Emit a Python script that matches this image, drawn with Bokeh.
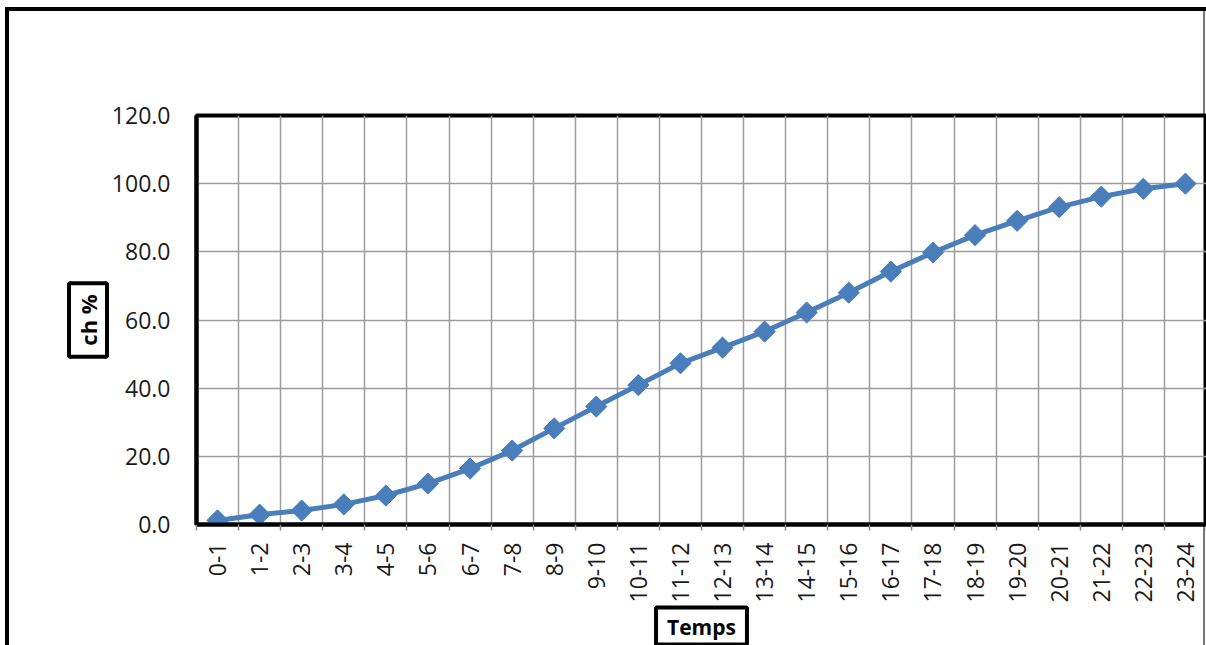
import numpy as np
from bokeh.plotting import figure
from bokeh.models import (Range1d, FixedTicker, NumeralTickFormatter, Title,
                          ColumnDataSource)
from bokeh.embed import file_html
from bokeh.resources import INLINE

periods = ["0-1", "1-2", "2-3", "3-4", "4-5", "5-6", "6-7", "7-8", "8-9", "9-10",
           "10-11", "11-12", "12-13", "13-14", "14-15", "15-16", "16-17", "17-18",
           "18-19", "19-20", "20-21", "21-22", "22-23", "23-24"]
ch_pct = [1.2, 2.9, 4.1, 5.9, 8.5, 12.0, 16.4, 21.7, 28.2, 34.6, 40.9, 47.3,
          51.9, 56.6, 62.2, 68.0, 74.2, 79.8, 84.9, 89.1, 93.1, 96.2, 98.5, 100.0]
y_ticks = [0, 20, 40, 60, 80, 100, 120]
x_title = "Temps"
y_title = "ch %"

FONT = "Open Sans"
BLUE = "#4a7ebb"
GRID = "#9c9c9c"

x_pos = np.arange(len(periods)) + 0.5
src = ColumnDataSource(dict(x=x_pos, y=ch_pct, period=periods))

p = figure(width=1206, height=645, output_backend="svg", toolbar_location=None,
           x_range=Range1d(0, len(periods)), y_range=Range1d(y_ticks[0], y_ticks[-1]),
           min_border_left=196, min_border_right=0, min_border_top=115,
           min_border_bottom=121, background_fill_color="white")

# outer chart-area border (left / top thick black, right thin grey)
p.border_fill_alpha = 0
p.styles = {
    "background-color": "white",
    "background-image": "linear-gradient(#000,#000), linear-gradient(#000,#000), "
                        "linear-gradient(#777,#777)",
    "background-size": "4px 100%, 100% 4px, 2px 100%",
    "background-position": "5px 7px, 5px 7px, 1203px 7px",
    "background-repeat": "no-repeat",
}

p.outline_line_color = "black"
p.outline_line_width = 4

# x axis: labels at category centres, tick marks / grid at boundaries
xt = FixedTicker(ticks=list(x_pos), minor_ticks=list(range(len(periods) + 1)))
p.xaxis.ticker = xt
p.xaxis.major_label_overrides = {float(x): lab for x, lab in zip(x_pos, periods)}
p.xaxis.major_label_orientation = np.pi / 2
p.xaxis.major_tick_line_color = None
p.xaxis.major_tick_out = 6
p.xaxis.major_tick_in = 0
p.xaxis.minor_tick_line_color = "#888888"
p.xaxis.minor_tick_line_width = 1.5
p.xaxis.minor_tick_out = 6
p.xaxis.minor_tick_in = 0
p.xaxis.major_label_standoff = 12
p.xaxis.axis_line_color = "black"
p.xaxis.axis_line_width = 4
p.xaxis.major_label_text_font = FONT
p.xaxis.major_label_text_font_size = "23px"
p.xaxis.major_label_text_color = "#1a1a1a"

p.xgrid.ticker = xt
p.xgrid.grid_line_color = None
p.xgrid.minor_grid_line_color = GRID
p.xgrid.minor_grid_line_width = 1.5

# y axis
p.yaxis.ticker = FixedTicker(ticks=y_ticks)
p.yaxis.formatter = NumeralTickFormatter(format="0.0")
p.yaxis.major_tick_line_color = None
p.yaxis.major_tick_out = 0
p.yaxis.major_tick_in = 0
p.yaxis.minor_tick_line_color = None
p.yaxis.major_label_standoff = 26
p.yaxis.axis_line_color = "black"
p.yaxis.axis_line_width = 4
p.yaxis.major_label_text_font = FONT
p.yaxis.major_label_text_font_size = "23px"
p.yaxis.major_label_text_color = "#1a1a1a"
p.ygrid.grid_line_color = GRID
p.ygrid.grid_line_width = 1.5

p.line("x", "y", source=src, line_color=BLUE, line_width=5)
p.scatter("x", "y", source=src, marker="square", angle=np.pi / 4, size=15,
          fill_color=BLUE, line_color=BLUE)

# boxed axis titles (padding order: left, right, top, bottom in text frame)
p.add_layout(Title(text=y_title, align="center", standoff=3,
                   text_font=FONT, text_font_style="bold", text_font_size="22px",
                   text_color="black", border_line_color="black",
                   border_line_width=4, background_fill_color="white",
                   padding=(11, 11, 4, 4)), "left")
p.add_layout(Title(text=x_title, align="center", standoff=0,
                   text_font=FONT, text_font_style="bold", text_font_size="21px",
                   text_color="black", border_line_color="black",
                   border_line_width=4, background_fill_color="white",
                   padding=(11, 11, 5, 4)), "below")

open("out.html", "w").write(file_html(p, INLINE))
